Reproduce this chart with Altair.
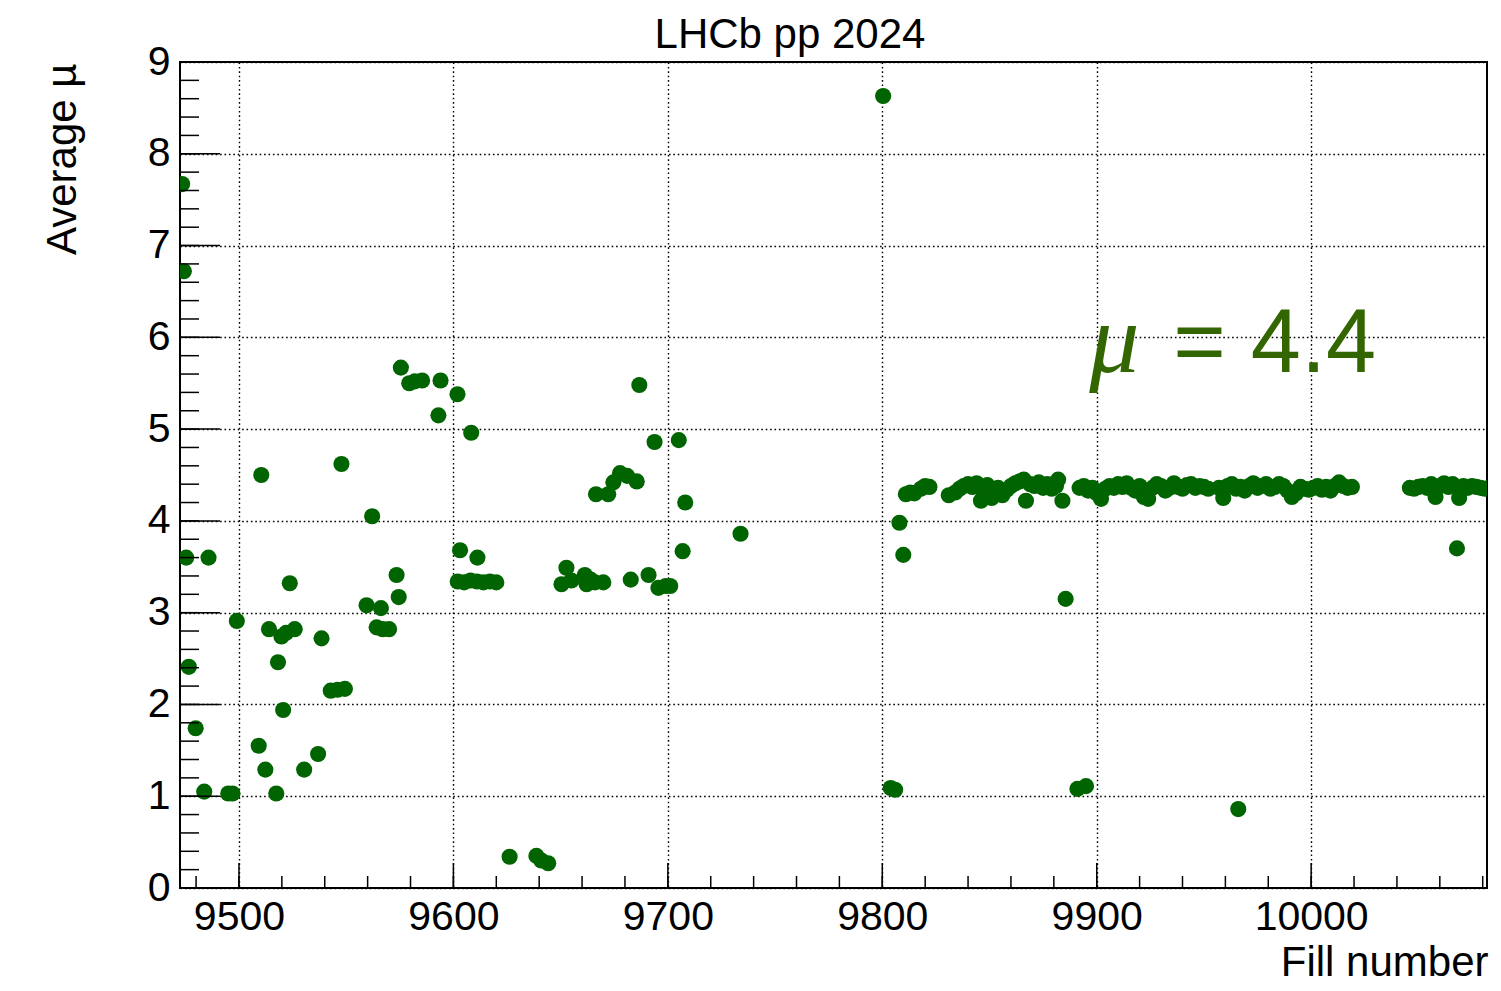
import altair as alt
import pandas as pd

# ---- data (fill number, average mu) ----
fill_early = [9473.5, 9474.3, 9475.4, 9476.6, 9479.8, 9483.8, 9485.8, 9495, 9497, 9499,
              9509.2, 9510.4, 9512.3, 9514, 9517.4, 9518.2, 9519.8, 9520.6, 9522, 9523.7,
              9526, 9530.4, 9536.9, 9538.5, 9542.8, 9546, 9547.8, 9549.4, 9559.5, 9562.1,
              9564.2, 9566.2, 9567, 9570, 9573.5, 9574.5, 9575.5, 9579.4, 9582, 9585.4,
              9593, 9594, 9601.9, 9603.1, 9608.3, 9611.2]
mu_early = [7.67, 6.72, 3.60, 2.41, 1.74, 1.05, 3.60, 1.03, 1.03, 2.91,
            1.55, 4.50, 1.29, 2.82, 1.03, 2.46, 2.74, 1.94, 2.78, 3.32,
            2.82, 1.29, 1.46, 2.72, 2.15, 2.16, 4.62, 2.17, 3.08, 4.05,
            2.84, 3.05, 2.82, 2.82, 3.41, 3.17, 5.67, 5.50, 5.52, 5.53,
            5.15, 5.53, 5.38, 3.68, 4.96, 3.60]

fill_mid = [9602, 9605, 9608, 9611, 9614, 9617, 9620, 9626.2, 9638.7, 9641,
            9644.2, 9650.4, 9652.7, 9655, 9661.3, 9662.1, 9664, 9666, 9666.5, 9669.9,
            9672.2, 9674.6, 9677.7, 9681, 9682.7, 9685.5, 9686.7, 9691, 9693.8, 9695.6,
            9699, 9701.1, 9705.1, 9706.9, 9708.1, 9733.9]
mu_mid = [3.34, 3.33, 3.35, 3.34, 3.33, 3.34, 3.33, 0.34, 0.35, 0.30,
          0.27, 3.31, 3.49, 3.35, 3.41, 3.31, 3.36, 3.33, 4.29, 3.33,
          4.29, 4.42, 4.52, 4.49, 3.36, 4.43, 5.48, 3.41, 4.86, 3.27,
          3.29, 3.29, 4.88, 3.67, 4.20, 3.86]

fill_late1 = [9800.4, 9803.9, 9806, 9808, 9809.8, 9811, 9813, 9815, 9818, 9820, 9822,
              9831, 9834, 9836, 9838, 9840, 9842, 9844, 9846, 9847, 9849, 9851, 9852,
              9854, 9856, 9858, 9860, 9862, 9864, 9866, 9867, 9869, 9871, 9873, 9875,
              9877, 9879, 9881, 9882, 9884, 9885.5]
mu_late1 = [8.63, 1.09, 1.07, 3.98, 3.63, 4.29, 4.31, 4.30, 4.35, 4.38, 4.37,
            4.28, 4.31, 4.35, 4.38, 4.40, 4.37, 4.41, 4.22, 4.33, 4.39, 4.25, 4.30,
            4.36, 4.28, 4.34, 4.38, 4.41, 4.43, 4.45, 4.22, 4.40, 4.38, 4.42, 4.36,
            4.40, 4.35, 4.38, 4.45, 4.22, 3.15]

fill_late2 = [9891, 9892, 9894, 9895, 9896, 9898, 9900, 9902, 9904, 9906, 9908, 9910,
              9912, 9914, 9916, 9918, 9920, 9922, 9924, 9926, 9928, 9930, 9932, 9934,
              9936, 9938, 9940, 9942, 9944, 9946, 9948, 9950, 9952]
mu_late2 = [1.08, 4.36, 4.38, 1.11, 4.33, 4.36, 4.30, 4.24, 4.35, 4.38, 4.36, 4.40,
            4.37, 4.41, 4.36, 4.33, 4.38, 4.26, 4.24, 4.36, 4.40, 4.38, 4.33, 4.36,
            4.41, 4.37, 4.35, 4.39, 4.40, 4.36, 4.38, 4.37, 4.35]

fill_late3 = [9957, 9959, 9961, 9963, 9965, 9966, 9967, 9969, 9971, 9973, 9975, 9977,
              9979, 9981, 9983, 9985, 9987, 9989, 9991, 9993, 9995, 9997, 9999, 10001,
              10003, 10005, 10007, 10009, 10011, 10013, 10015, 10017, 10019]
mu_late3 = [4.36, 4.25, 4.38, 4.40, 4.35, 0.86, 4.37, 4.33, 4.38, 4.41, 4.36, 4.38,
            4.40, 4.35, 4.37, 4.40, 4.38, 4.33, 4.26, 4.30, 4.37, 4.35, 4.34, 4.36,
            4.38, 4.34, 4.37, 4.33, 4.38, 4.42, 4.38, 4.36, 4.37]

fill_late4 = [10046, 10048, 10050, 10052, 10054, 10056, 10058, 10060, 10062, 10064,
              10066, 10068, 10069, 10071, 10073, 10075, 10077, 10079, 10081, 10083]
mu_late4 = [4.36, 4.35, 4.37, 4.38, 4.36, 4.40, 4.26, 4.38, 4.41, 4.37,
            4.40, 3.70, 4.25, 4.38, 4.36, 4.38, 4.37, 4.36, 4.35, 4.36]

# axis ticks
x_major = [9500, 9600, 9700, 9800, 9900, 10000]
x_minor = list(range(9480, 10081, 20))
y_major = [0, 1, 2, 3, 4, 5, 6, 7, 8, 9]
y_minor = [round(i * 0.2, 1) for i in range(0, 46)]

# texts
title_text = ["LHCb pp 2024"]
ann_fill = [9896.5, 9935.7]
ann_mu = [5.62, 5.62]
ann_text = ["μ", "= 4.4"]

X_DOMAIN = [9472.5, 10082]
Y_DOMAIN = [0, 9]
W, H = 1307, 826
FONT = "Liberation Sans"

fills = fill_early + fill_mid + fill_late1 + fill_late2 + fill_late3 + fill_late4
mus = mu_early + mu_mid + mu_late1 + mu_late2 + mu_late3 + mu_late4
df = pd.DataFrame({"fill": fills, "mu": mus})

xs = alt.Scale(domain=X_DOMAIN, nice=False, zero=False)
ys = alt.Scale(domain=Y_DOMAIN, nice=False, zero=False)

x_axis = alt.Axis(values=x_major, format="d", grid=True, gridColor="black",
                  gridDash=[1.6, 2.8], gridWidth=1.4, tickSize=0, domain=False,
                  labelFont=FONT, labelFontSize=41, labelColor="black", labelPadding=9,
                  labelFlush=False, title="Fill number", titleFont=FONT, titleFontSize=42,
                  titleFontWeight="normal", titleColor="black", titleAlign="right",
                  titleAnchor="end", titleX=W + 1, titleY=87, titleBaseline="alphabetic")
y_axis = alt.Axis(values=y_major, format="d", grid=True, gridColor="black",
                  gridDash=[1.6, 2.8], gridWidth=1.4, tickSize=0, domain=False,
                  labelFont=FONT, labelFontSize=41, labelColor="black", labelPadding=10,
                  labelFlush=False, title="Average µ", titleFont=FONT, titleFontSize=42,
                  titleFontWeight="normal", titleColor="black", titleAngle=270,
                  titleAlign="right", titleAnchor="end", titleX=-105, titleY=1,
                  titleBaseline="alphabetic")

points = alt.Chart(df).mark_circle(size=260, color="#006400", opacity=1, clip=True).encode(
    x=alt.X("fill:Q", scale=xs, axis=x_axis),
    y=alt.Y("mu:Q", scale=ys, axis=y_axis),
)

xmaj = alt.Chart(pd.DataFrame({"fill": x_major})).mark_rule(color="black", strokeWidth=1.5).encode(
    x=alt.X("fill:Q", scale=xs), y=alt.value(H), y2=alt.value(H - 25))
xmin = alt.Chart(pd.DataFrame({"fill": x_minor})).mark_rule(color="black", strokeWidth=1.5).encode(
    x=alt.X("fill:Q", scale=xs), y=alt.value(H), y2=alt.value(H - 12))
ymaj = alt.Chart(pd.DataFrame({"mu": y_major})).mark_rule(color="black", strokeWidth=1.5).encode(
    y=alt.Y("mu:Q", scale=ys), x=alt.value(0), x2=alt.value(40))
ymin = alt.Chart(pd.DataFrame({"mu": y_minor})).mark_rule(color="black", strokeWidth=1.5).encode(
    y=alt.Y("mu:Q", scale=ys), x=alt.value(0), x2=alt.value(19))

ann_mu_df = pd.DataFrame({"fill": [ann_fill[0]], "mu": [ann_mu[0]], "t": [ann_text[0]]})
ann_eq_df = pd.DataFrame({"fill": [ann_fill[1]], "mu": [ann_mu[1]], "t": [ann_text[1]]})
t_mu = alt.Chart(ann_mu_df).mark_text(font="Liberation Serif", fontStyle="italic", fontSize=100,
                                      align="left", baseline="alphabetic", color="#336600").encode(
    x=alt.X("fill:Q", scale=xs), y=alt.Y("mu:Q", scale=ys), text="t:N")
t_eq = alt.Chart(ann_eq_df).mark_text(font=FONT, fontSize=90, align="left",
                                      baseline="alphabetic", color="#336600").encode(
    x=alt.X("fill:Q", scale=xs), y=alt.Y("mu:Q", scale=ys), text="t:N")

title = alt.Chart(pd.DataFrame({"t": title_text})).mark_text(
    font=FONT, fontSize=42, align="center", baseline="alphabetic", color="black").encode(
    x=alt.value(610), y=alt.value(-14), text="t:N")

chart = alt.layer(points, xmaj, xmin, ymaj, ymin, t_mu, t_eq, title).properties(
    width=W, height=H,
    background="white",
    padding={"left": 172, "top": 54, "right": 6, "bottom": 95},
    autosize=alt.AutoSizeParams(type="none"),
).configure_view(stroke="black", strokeWidth=2)

chart.save("out.html", embed_options={"renderer": "svg", "actions": False})
